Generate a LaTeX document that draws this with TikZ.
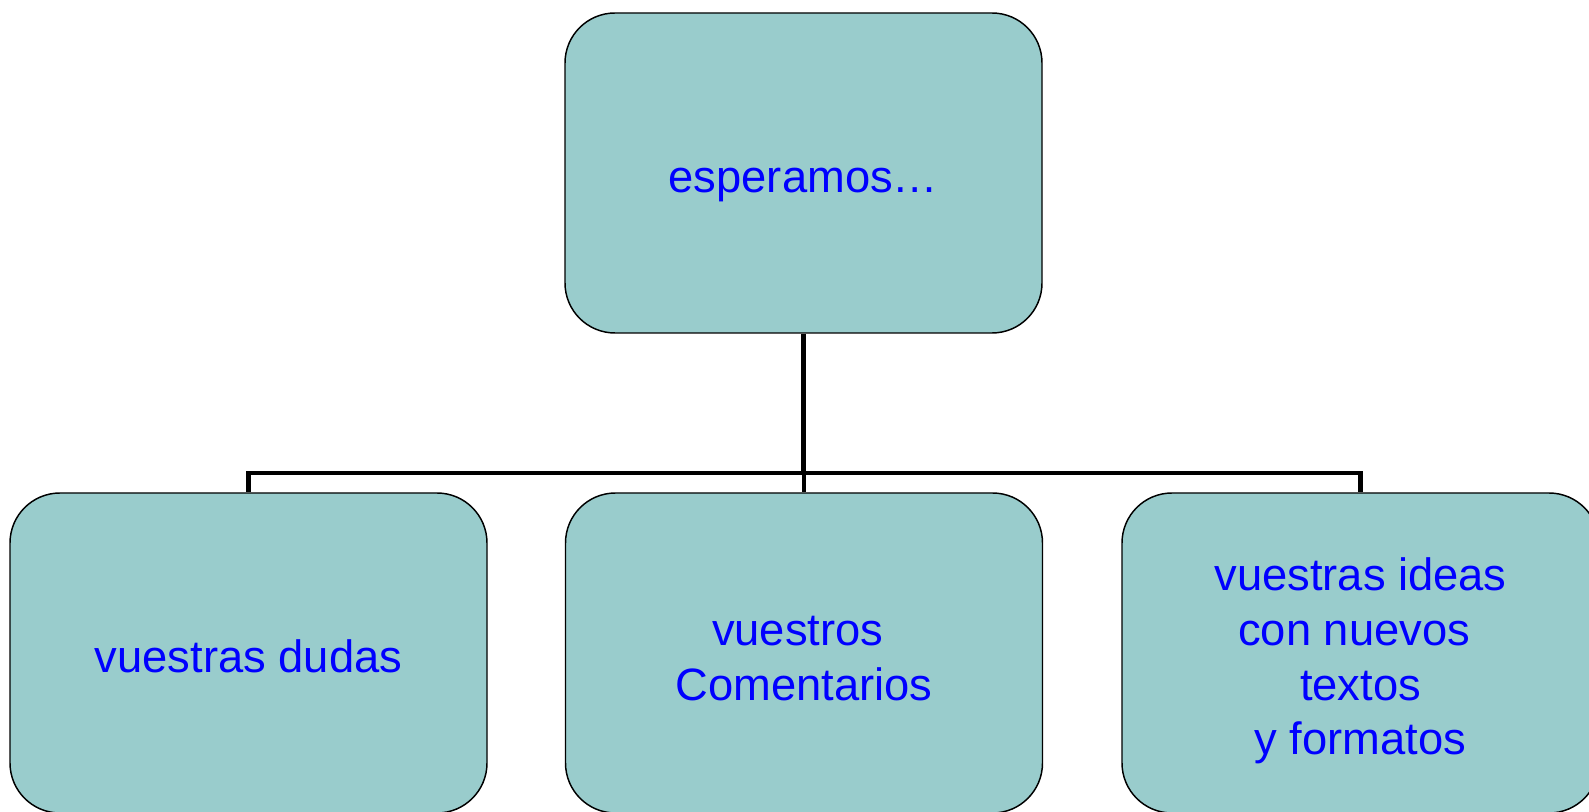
\documentclass[tikz,border=0pt]{standalone}
\usepackage{fontspec}
\setmainfont{Liberation Sans}
\definecolor{cajafondo}{RGB}{153,204,204}
\definecolor{textoazul}{RGB}{0,0,255}
\newcommand{\altura}{\rule{0pt}{30pt}}

\tikzset{every picture/.style={line width=0.75pt}}
\tikzset{caja/.style={draw, fill=cajafondo, line width=1.1pt, rounded corners=37.5pt,
    minimum width=357.75pt, minimum height=240pt, align=center, text=textoazul,
    font=\fontsize{34}{41}\selectfont, inner sep=0pt},
  rama/.style={line width=3.5pt}}

\begin{document}
\begin{tikzpicture}[x=0.75pt,y=0.75pt,yscale=-1,xscale=1]
%set diagram area 1589 x 812
\clip (0,0) rectangle (1589,812);
\fill[white] (0,0) rectangle (1589,812);

%Shape: Rounded Rect [id:esperamos]
\node[caja] (esperamos) at (803.5,173) {\altura es\smash{p}eramos…};
%Shape: Rounded Rect [id:dudas]
\node[caja] (dudas) at (248.5,653) {\altura vuestras dudas};
%Shape: Rounded Rect [id:comentarios]
\node[caja] (comentarios) at (804,653) {\altura vuestros\kern0.278em\\Comentarios};
%Shape: Rounded Rect [id:ideas]
\node[caja] (ideas) at (1360.5,653) {\altura vuestras ideas\\con nuevos\kern0.278em\\textos\\\smash{y} formatos};

%Straight Lines [id:bus]
\coordinate (bus) at (esperamos.south |- 0,473);
\draw[rama] (esperamos.south) -- (bus);
\foreach \hijo in {dudas,comentarios,ideas}
  \draw[rama] (bus) -| (\hijo.north);

\end{tikzpicture}
\end{document}
